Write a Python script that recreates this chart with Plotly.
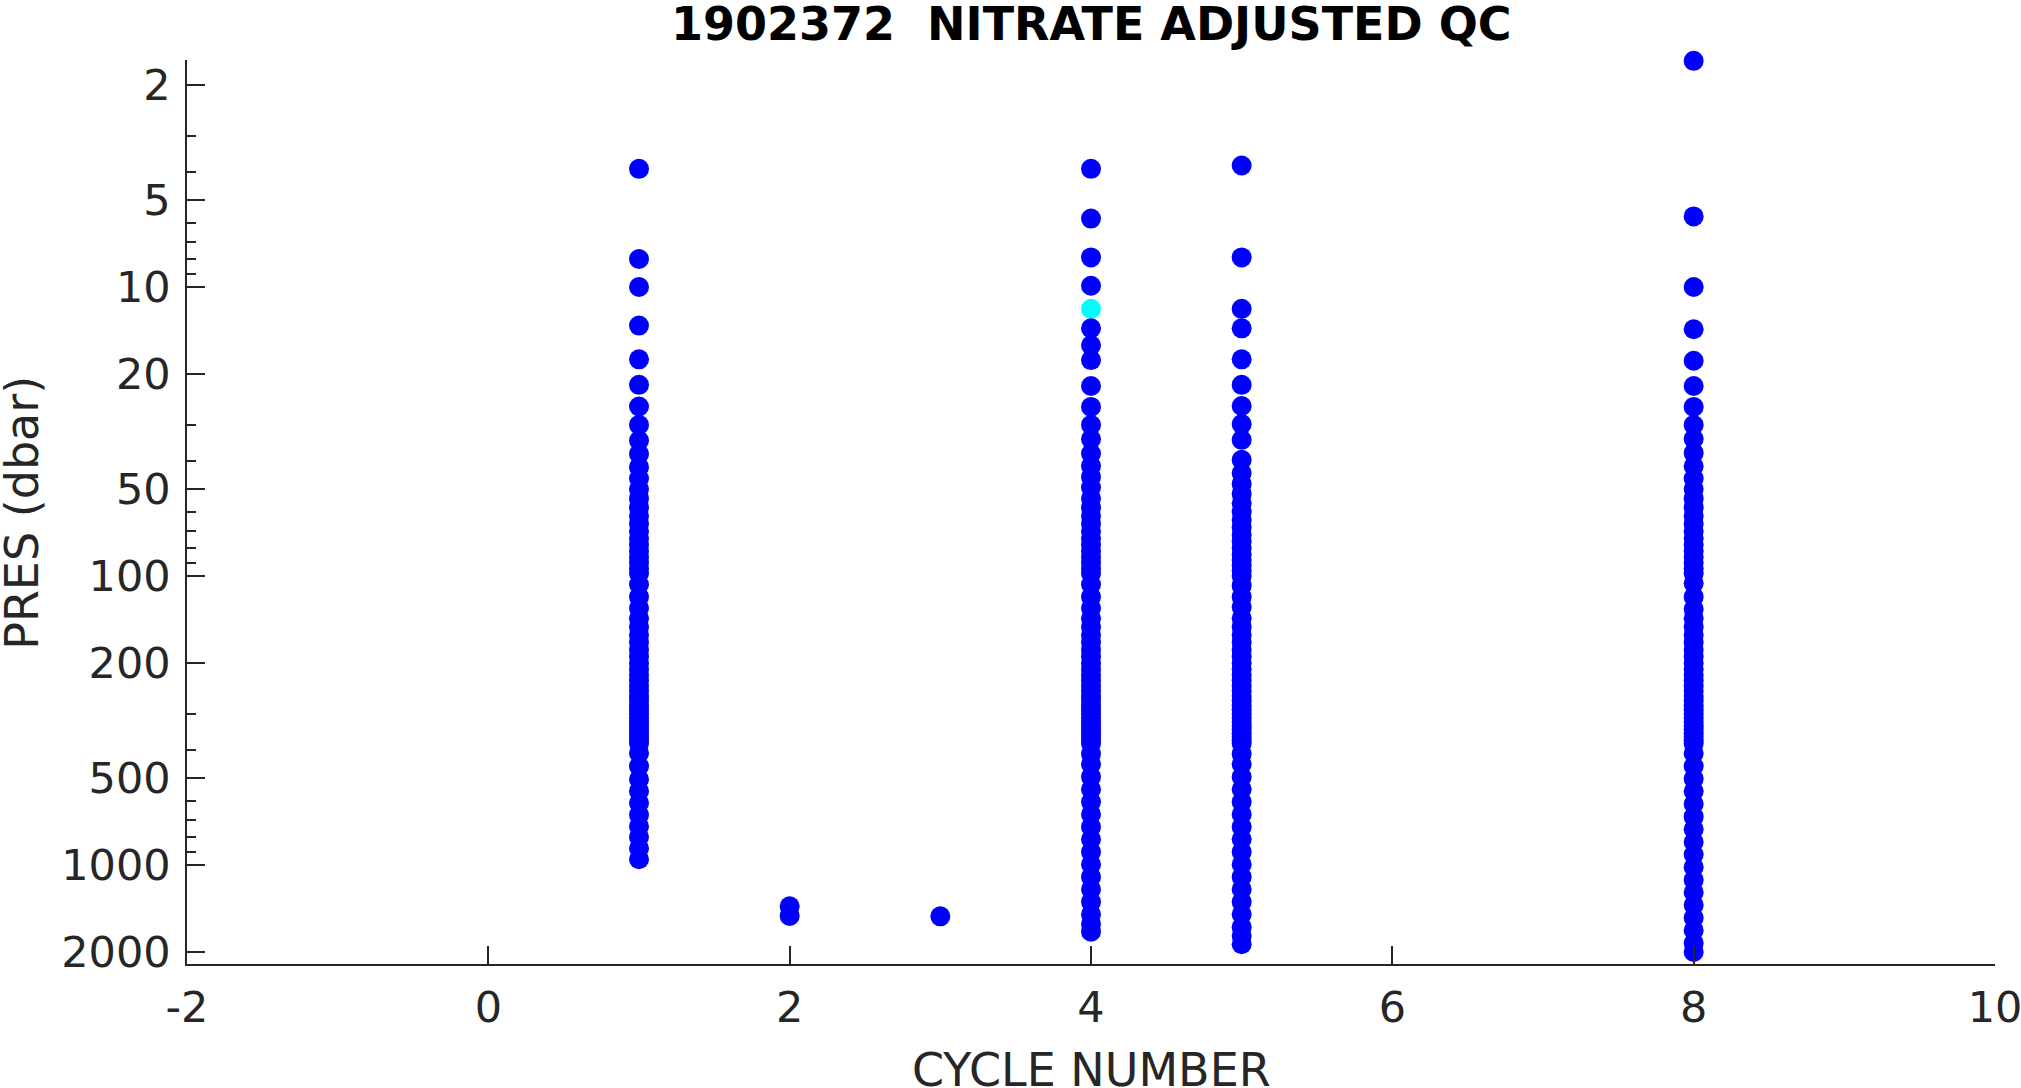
import plotly.graph_objects as go

# ---- data (pressures in dbar) ----
cycle_numbers = [1, 2, 3, 4, 5, 8]

pres_cycle_1 = [3.9, 8, 10, 13.6, 17.8, 21.8, 25.9, 30, 34, 37.8, 42, 46, 50, 54, 58,
                62, 66, 70, 74, 78, 82, 86, 90, 94, 98,
                107, 118, 129, 140, 150, 160, 170, 180, 190, 200, 210, 220, 230, 240,
                250, 260, 270, 280, 290, 300, 310, 320, 330, 340, 350, 360, 370, 380,
                410, 455, 505, 555, 610, 670, 735, 800, 875, 955]

pres_cycle_2 = [1390, 1500]

pres_cycle_3 = [1505]

pres_cycle_4 = [3.9, 5.8, 7.9, 9.9, 13.9, 15.9, 17.9, 22, 26, 30, 33.6, 37.7, 41.6, 45.4,
                49.4, 53.8, 58, 62, 66, 70, 74, 78, 82, 86, 90, 94, 98,
                107, 118, 129, 140, 150, 160, 170, 180, 190, 200, 210, 220, 230, 240,
                250, 260, 270, 280, 290, 300, 310, 320, 330, 340, 350, 360, 370, 380,
                412, 448, 495, 547, 604, 668, 738, 815, 900, 995, 1099, 1214, 1341,
                1481, 1600, 1700]

pres_cycle_5 = [3.8, 7.9, 11.9, 13.9, 17.8, 21.8, 25.8, 29.8, 33.8, 39.6, 44, 48, 52, 56,
                60, 64, 68, 72, 76, 80, 84, 88, 92, 96, 100,
                108, 118, 128, 140, 150, 160, 170, 180, 190, 200, 210, 220, 230, 240,
                250, 260, 270, 280, 290, 300, 310, 320, 330, 340, 350, 360, 370, 380,
                412, 448, 495, 547, 604, 668, 738, 815, 900, 995, 1099, 1214, 1341,
                1481, 1640, 1760, 1880]

pres_cycle_8 = [1.65, 5.7, 10, 14, 18, 22, 26, 30, 33.5, 37.5, 41.7, 46, 50, 54, 58,
                62, 66, 70, 74, 78, 82, 86, 90, 94, 98,
                106, 118, 130, 140, 150, 160, 170, 180, 190, 200, 210, 220, 230, 240,
                250, 260, 270, 280, 290, 300, 310, 320, 330, 340, 350, 360, 370, 380,
                411, 455, 503, 556, 615, 680, 752, 832, 920, 1017, 1125, 1244, 1376,
                1522, 1683, 1862, 2000]

# points with a different QC flag (drawn cyan)
flagged_cycle = [4]
flagged_pres = [11.9]

x_tick_vals = [-2, 0, 2, 4, 6, 8, 10]
x_tick_text = ["-2", "0", "2", "4", "6", "8", "10"]
y_tick_vals = [2, 5, 10, 20, 50, 100, 200, 500, 1000, 2000]
y_tick_text = ["2", "5", "10", "20", "50", "100", "200", "500", "1000", "2000"]
y_minor_vals = [3, 4, 6, 7, 8, 9, 30, 40, 60, 70, 80, 90, 300, 400, 600, 700, 800, 900]

title_text = "1902372\u00a0 NITRATE ADJUSTED QC"
x_title = "CYCLE NUMBER"
y_title = "PRES (dbar)"

GOOD = "#0000FF"
FLAG = "#00FFFF"
AX = "#262626"
FONT = "DejaVu Sans"

all_pres = {1: pres_cycle_1, 2: pres_cycle_2, 3: pres_cycle_3,
            4: pres_cycle_4, 5: pres_cycle_5, 8: pres_cycle_8}

fig = go.Figure()
for c in cycle_numbers:
    pts = [(p, GOOD) for p in all_pres[c]]
    pts += [(p, FLAG) for fc, p in zip(flagged_cycle, flagged_pres) if fc == c]
    pts.sort(key=lambda t: t[0])
    fig.add_trace(go.Scatter(
        x=[c] * len(pts), y=[p for p, _ in pts], mode="markers",
        marker=dict(size=20, color=[col for _, col in pts], line=dict(width=0)),
        cliponaxis=False, showlegend=False, hoverinfo="x+y"))

axis_common = dict(showline=True, linecolor=AX, linewidth=1.5, mirror=False,
                   ticks="inside", tickcolor=AX, tickwidth=1.5, ticklen=18,
                   showgrid=False, zeroline=False, ticklabeloverflow="allow",
                   automargin=False,
                   tickfont=dict(family=FONT, size=43, color=AX))

fig.update_xaxes(range=[-2, 10], tickmode="array", tickvals=x_tick_vals,
                 ticktext=x_tick_text, ticklabelstandoff=5, **axis_common)
fig.update_yaxes(type="log", range=[3.3424, 0.2146], tickmode="array",
                 tickvals=y_tick_vals, ticktext=y_tick_text, ticklabelstandoff=6,
                 minor=dict(tickmode="array", tickvals=y_minor_vals, ticks="inside",
                            ticklen=9, tickwidth=1.5, tickcolor=AX, showgrid=False),
                 **axis_common)

fig.update_layout(
    width=2021, height=1088,
    margin=dict(l=187, r=26, t=60, b=124, autoexpand=False),
    plot_bgcolor="white", paper_bgcolor="white",
    annotations=[
        dict(text="<b>" + title_text + "</b>", xref="paper", yref="paper",
             x=0.5, y=1.0397, xanchor="center", yanchor="middle", showarrow=False,
             font=dict(family=FONT, size=46, color="black")),
        dict(text=x_title, xref="paper", yref="paper", x=0.5, y=-0.117,
             xanchor="center", yanchor="middle", showarrow=False,
             font=dict(family=FONT, size=46, color=AX)),
        dict(text=y_title, xref="paper", yref="paper", x=-0.0913, y=0.499,
             xanchor="center", yanchor="middle", showarrow=False, textangle=-90,
             font=dict(family=FONT, size=46, color=AX)),
    ],
)

fig.write_html("out.html", config={"displayModeBar": False},
               post_script="document.body.style.margin='0px';"
                           "document.body.style.overflow='hidden';")
